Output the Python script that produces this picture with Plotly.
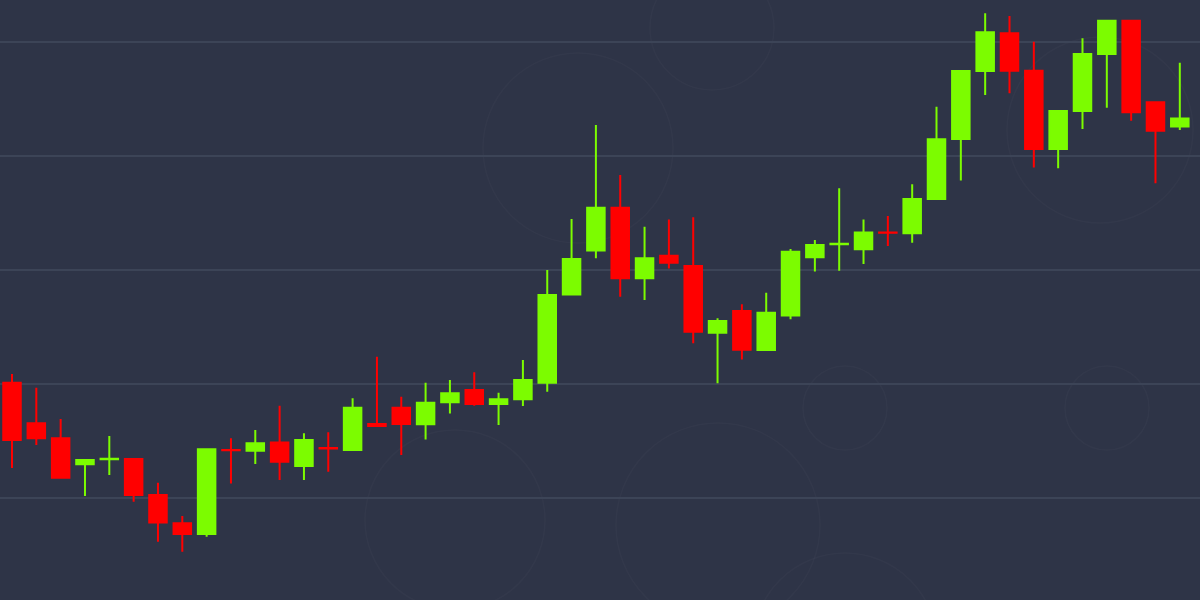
import plotly.graph_objects as go

# Candle index (one per period)
periods = list(range(49))

opens = [6506, 6328, 6262, 6148, 6170, 6171, 6013, 5889, 5842, 6211,
         6207, 6243, 6140, 6219, 6211, 6324, 6396, 6323, 6420, 6474,
         6412, 6433, 6506, 6893, 7085, 7273, 6964, 7063, 7018, 6725,
         6820, 6649, 6800, 7056, 7113, 7091, 7165, 7161, 7311, 7575,
         7873, 8038, 7874, 7531, 7697, 7947, 8093, 7736, 7629]
highs = [6544, 6484, 6346, 6171, 6272, 6171, 6067, 5921, 6216, 6262,
         6298, 6405, 6284, 6288, 6437, 6620, 6444, 6506, 6518, 6551,
         6462, 6605, 7000, 7224, 7636, 7417, 7190, 7222, 7231, 6788,
         6850, 6900, 7092, 7132, 7358, 7222, 7237, 7376, 7716, 7874,
         8126, 8114, 8001, 7698, 8016, 8094, 8094, 7737, 7909]
lows = [6132, 6232, 6089, 6009, 6101, 5984, 5808, 5764, 5830, 6064,
        6149, 6079, 6079, 6115, 6210, 6316, 6189, 6257, 6371, 6405,
        6320, 6404, 6466, 6892, 7051, 6883, 6868, 7007, 6679, 6503,
        6607, 6648, 6784, 6993, 6997, 7026, 7105, 7120, 7310, 7392,
        7768, 7775, 7450, 7446, 7618, 7712, 7655, 7380, 7614]
closes = [6254, 6262, 6089, 6167, 6172, 6013, 5892, 5842, 6214, 6209,
          6240, 6159, 6254, 6217, 6396, 6316, 6325, 6418, 6459, 6412,
          6433, 6518, 6890, 7048, 7273, 6964, 7051, 7032, 6729, 6776,
          6650, 6813, 7080, 7110, 7115, 7164, 7163, 7311, 7573, 7873,
          8043, 7874, 7531, 7697, 7947, 8093, 7692, 7611, 7665]

BG = "#2e3447"
GREEN = "#7cfc00"
RED = "#ff0000"

fig = go.Figure(go.Candlestick(
    x=periods, open=opens, high=highs, low=lows, close=closes,
    increasing=dict(line=dict(color=GREEN, width=2), fillcolor=GREEN),
    decreasing=dict(line=dict(color=RED, width=2), fillcolor=RED),
    whiskerwidth=0,
    showlegend=False,
    hoverinfo="none",
))

# faint decorative circles in the background (pixel centre, radius)
circles = [(578, 148, 95), (712, 28, 62), (845, 408, 42), (1107, 408, 42),
           (845, 645, 92), (1100, 130, 93), (718, 525, 102), (455, 520, 90)]
shapes = []
for cx, cy, r in circles:
    shapes.append(dict(
        type="circle", xref="paper", yref="paper", layer="below",
        x0=(cx - r) / 1200, x1=(cx + r) / 1200,
        y0=1 - (cy + r) / 600, y1=1 - (cy - r) / 600,
        line=dict(color="rgba(255,255,255,0.022)", width=1.5),
    ))

fig.update_layout(
    width=1200, height=600,
    margin=dict(l=0, r=0, t=0, b=0),
    paper_bgcolor=BG, plot_bgcolor=BG,
    boxgap=0.28, boxgroupgap=0,
    shapes=shapes,
    xaxis=dict(range=[-0.493, 48.83], showgrid=False, zeroline=False,
               showticklabels=False, rangeslider=dict(visible=False),
               fixedrange=True),
    yaxis=dict(range=[5552.6, 8184.2], tick0=6000, dtick=500,
               showgrid=True, gridcolor="#3c4457", gridwidth=2,
               zeroline=False, showticklabels=False, fixedrange=True),
    hovermode=False,
)

fig.write_html(
    "out.html",
    config=dict(displayModeBar=False),
    post_script="document.body.style.margin='0';document.body.style.overflow='hidden';"
                "document.body.style.background='" + BG + "';",
)
